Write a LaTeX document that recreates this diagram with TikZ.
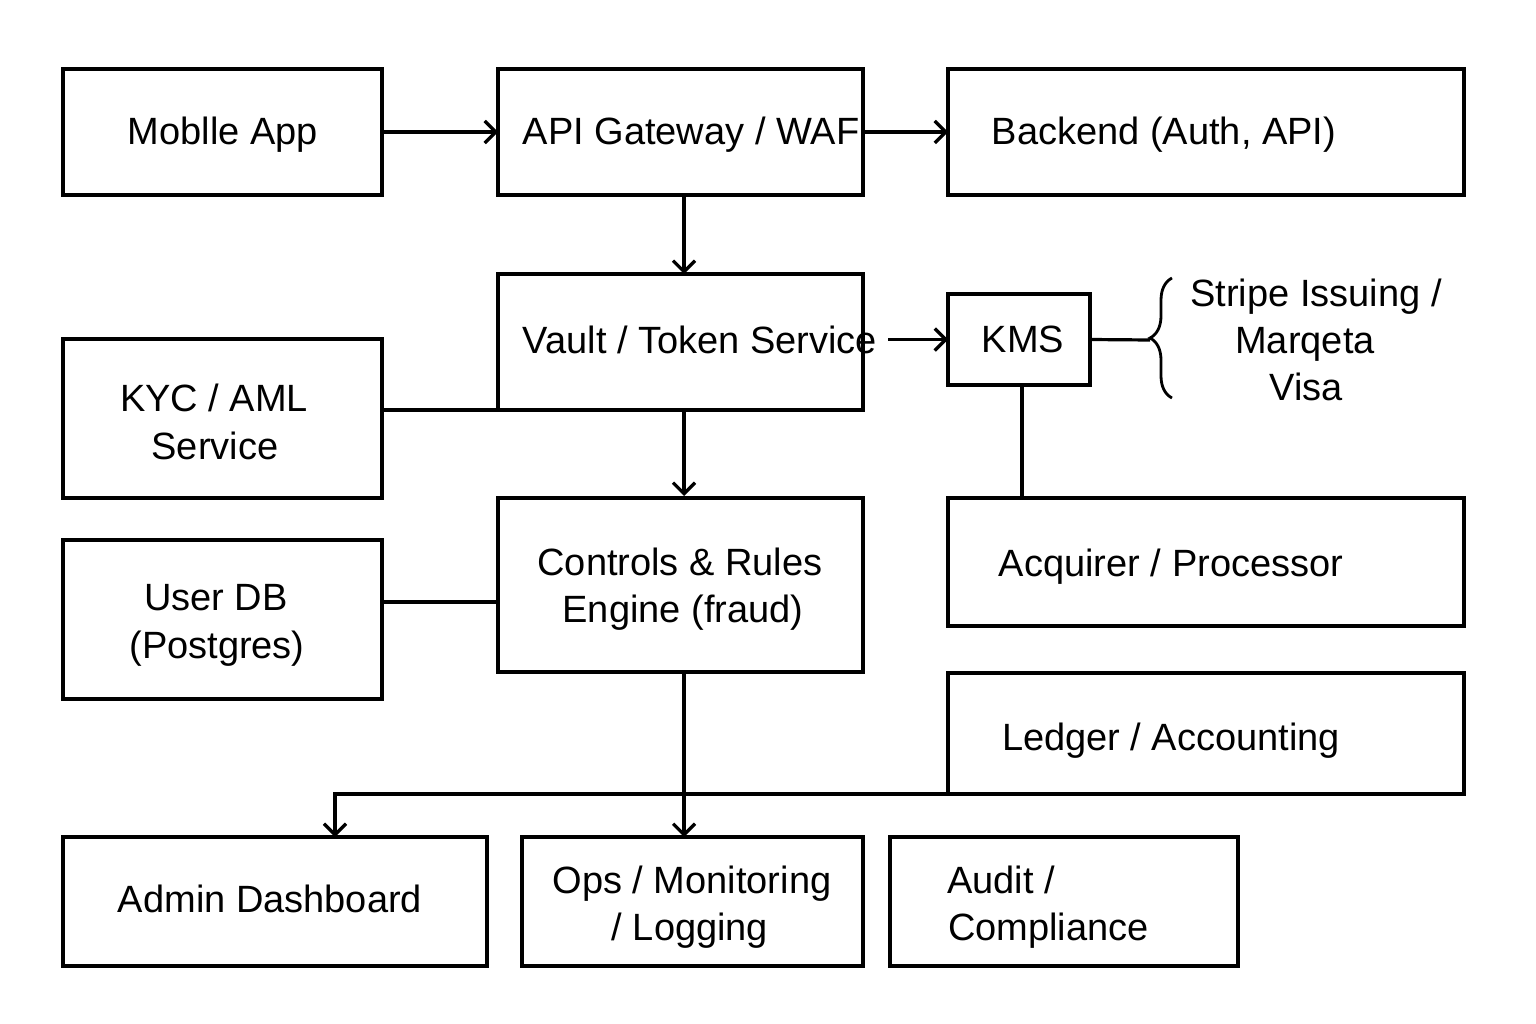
\documentclass[tikz,border=0pt]{standalone}
\usepackage{fontspec}
\setmainfont{Liberation Sans}
\usetikzlibrary{arrows.meta,decorations.pathreplacing}
\begin{document}
\begin{tikzpicture}[x=1pt,y=-1pt,
  box/.style={draw=black,line width=3.2pt,inner sep=0pt,outer sep=0pt},
  lbl/.style={anchor=base,inner sep=0pt,font=\fontsize{38}{46}\selectfont},
  lbll/.style={anchor=base west,inner sep=0pt,font=\fontsize{38}{46}\selectfont},
  conn/.style={line width=3.2pt},
  arr/.style={line width=3.2pt,-{Straight Barb[length=11pt,width=22pt]}}]
\useasboundingbox[fill=white] (0,0) rectangle (1536,1024);
% boxes
\node[box,minimum width=319pt,minimum height=126pt] (mobile) at (222.5,132) {};
\node[box,minimum width=365pt,minimum height=126pt] (api) at (680.5,132) {};
\node[box,minimum width=516pt,minimum height=126pt] (backend) at (1206,132) {};
\node[box,minimum width=365pt,minimum height=136pt] (vault) at (680.5,342) {};
\node[box,minimum width=142pt,minimum height=91pt] (kms) at (1019,339.5) {};
\node[box,minimum width=319pt,minimum height=159pt] (kyc) at (222.5,418.5) {};
\node[box,minimum width=365pt,minimum height=174pt] (controls) at (680.5,585) {};
\node[box,minimum width=319pt,minimum height=159pt] (userdb) at (222.5,619.5) {};
\node[box,minimum width=516pt,minimum height=128pt] (acq) at (1206,562) {};
\node[box,minimum width=516pt,minimum height=121pt] (ledger) at (1206,733.5) {};
\node[box,minimum width=424pt,minimum height=129pt] (admin) at (275,901.5) {};
\node[box,minimum width=341pt,minimum height=129pt] (ops) at (692.5,901.5) {};
\node[box,minimum width=348pt,minimum height=129pt] (audit) at (1064,901.5) {};
% labels
\node[lbl] (tmobile) at (223,145) {Moblle App};
\node[lbl] (tapi) at (691,145) {API Gateway / WAF};
\node[lbl] (tbackend) at (1164,145) {Backend (Auth, API)};
\node[lbl] (tvault) at (700,353) {Vault / Token Service};
\node[lbl] (tkms) at (1023,352) {KMS};
\node[lbl] (tkyc1) at (214,411) {KYC / AML};
\node[lbl] (tkyc2) at (215,459) {Service};
\node[lbl] (tctl1) at (680,575) {Controls \& Rules};
\node[lbl] (tctl2) at (683,622) {Engine (fraud)};
\node[lbl] (tudb1) at (216,610) {User DB};
\node[lbl] (tudb2) at (217,658) {(Postgres)};
\node[lbl] (tstr1) at (1316,306) {Stripe Issuing /};
\node[lbl] (tstr2) at (1305,353) {Marqeta};
\node[lbl] (tstr3) at (1306,400) {Visa};
\node[lbl] (tacq) at (1171,576) {Acquirer / Processor};
\node[lbl] (tledger) at (1171,750) {Ledger / Accounting};
\node[lbl] (tadmin) at (270,912) {Admin Dashboard};
\node[lbl] (tops1) at (692,893) {Ops / Monitoring};
\node[lbl] (tops2) at (690,940) {/ Logging};
\node[lbll] (taud1) at (947,893) {Audit /};
\node[lbll] (taud2) at (948,940) {Compliance};
% connectors
\draw[arr] (mobile.east) -- (api.west);
\draw[arr] (api.east) -- (backend.west);
\draw[arr] ([xshift=3.5pt]api.south) -- ([xshift=3.5pt]vault.north);
\draw[arr] ([xshift=25pt]vault.east |- kms.west) -- (kms.west);
\draw[conn] (kyc.east |- vault.south west) -- (vault.south west);
\draw[arr] ([xshift=3.5pt]vault.south) -- ([xshift=3.5pt,yshift=2pt]controls.north);
\path (userdb.east) ++(0,-17.5) coordinate (u1);
\draw[conn] (u1) -- (u1 -| controls.west);
\draw[conn] ([xshift=3pt]kms.south) -- ([xshift=3pt]kms.south |- acq.north);
\draw[conn] (kms.east) -- (1150,340) coordinate (bt);
\draw[line width=2.8pt,decorate,decoration={brace,amplitude=22pt}] (1172,398) -- (1172,278);
\draw[arr] ([xshift=3.5pt]controls.south) -- ([xshift=3.5pt]controls.south |- ops.north);
\draw[arr] (ledger.south west) -| ([xshift=60pt]admin.north);
\end{tikzpicture}
\end{document}
